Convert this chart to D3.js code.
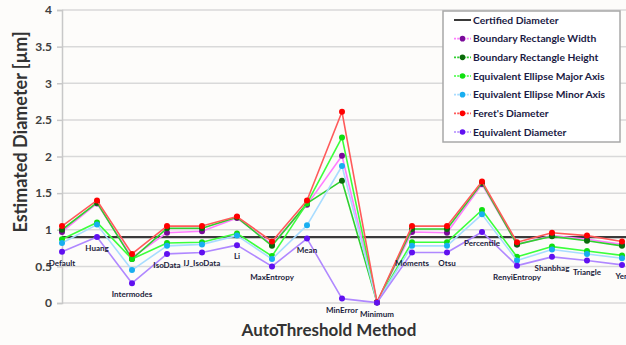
<!DOCTYPE html>
<html>
<head>
<meta charset="utf-8">
<script src="https://cdn.jsdelivr.net/npm/d3@7"></script>
<style>
  html, body { margin: 0; padding: 0; background: #fdfcfa; }
  svg { display: block; }
  text { font-family: Lato, "Liberation Sans", sans-serif; font-weight: bold; }
</style>
</head>
<body>
<svg id="chart" width="626" height="345"></svg>
<script>
// AutoThreshold methods on the category axis
const methods = ["Default", "Huang", "Intermodes", "IsoData", "IJ_IsoData", "Li", "MaxEntropy", "Mean",
  "MinError", "Minimum", "Moments", "Otsu", "Percentile", "RenyiEntropy", "Shanbhag", "Triangle", "Yen"];

// Estimated diameters [µm] per size measure
const certifiedDiameter = 0.9;
const boundaryRectWidth  = [0.97, 1.36, 0.62, 0.96, 0.98, 1.16, 0.80, 1.34, 2.01, 0.01, 0.97, 0.96, 1.62, 0.80, 0.92, 0.87, 0.80];
const boundaryRectHeight = [1.00, 1.37, 0.60, 1.02, 1.02, 1.17, 0.78, 1.36, 1.67, 0.01, 1.01, 1.01, 1.64, 0.80, 0.91, 0.85, 0.78];
const ellipseMajorAxis   = [0.87, 1.10, 0.60, 0.82, 0.83, 0.95, 0.64, 1.36, 2.26, 0.01, 0.83, 0.83, 1.27, 0.63, 0.77, 0.71, 0.65];
const ellipseMinorAxis   = [0.82, 1.07, 0.45, 0.78, 0.80, 0.92, 0.60, 1.06, 1.87, 0.01, 0.78, 0.78, 1.21, 0.58, 0.73, 0.67, 0.61];
const feretDiameter      = [1.05, 1.40, 0.67, 1.05, 1.05, 1.18, 0.84, 1.40, 2.61, 0.01, 1.05, 1.05, 1.66, 0.83, 0.96, 0.92, 0.84];
const equivalentDiameter = [0.70, 0.90, 0.27, 0.67, 0.69, 0.79, 0.50, 0.88, 0.06, 0.005, 0.69, 0.69, 0.97, 0.51, 0.63, 0.58, 0.52];

const yTicks = [0, 0.5, 1, 1.5, 2, 2.5, 3, 3.5, 4];

const seriesNames = ["Boundary Rectangle Width", "Boundary Rectangle Height", "Equivalent Ellipse Major Axis",
  "Equivalent Ellipse Minor Axis", "Feret's Diameter", "Equivalent Diameter"];
const seriesValues = [boundaryRectWidth, boundaryRectHeight, ellipseMajorAxis, ellipseMinorAxis, feretDiameter, equivalentDiameter];
const lineColors   = ["#ff7dff", "#2fd02f", "#3cff3c", "#a8dcff", "#ff5a5a", "#b088ff"];
const markerColors = ["#7a0a9a", "#0a6a0a", "#10e010", "#18aef0", "#ff0000", "#6010f0"];

const svg = d3.select("#chart");
const W = 626, H = 345;
const plot = { left: 62, right: 622, top: 10, bottom: 303 };

const x = d3.scalePoint().domain(methods).range([plot.left, plot.right]);
const y = d3.scaleLinear().domain([0, 4]).range([plot.bottom, plot.top]);

// horizontal gridlines
svg.append("g").selectAll("line").data(yTicks).join("line")
  .attr("x1", plot.left).attr("x2", W)
  .attr("y1", d => y(d)).attr("y2", d => y(d))
  .attr("stroke", "#d9d9d9").attr("stroke-width", 1.5);

// value axis
const yAxis = svg.append("g").attr("transform", `translate(${plot.left},0)`)
  .call(d3.axisLeft(y).tickValues(yTicks).tickSize(5).tickPadding(5).tickFormat(d3.format("")));
yAxis.select(".domain").attr("stroke", "#c8c8c8").attr("stroke-width", 1.5);
yAxis.selectAll(".tick line").attr("stroke", "#c8c8c8").attr("stroke-width", 1.5);
yAxis.selectAll(".tick text").attr("fill", "#404040").style("font-size", "12px")
  .style("font-family", "Lato, sans-serif").style("font-weight", "bold");

// certified reference line
svg.append("line")
  .attr("x1", plot.left).attr("x2", W)
  .attr("y1", y(certifiedDiameter)).attr("y2", y(certifiedDiameter))
  .attr("stroke", "#3a3a3a").attr("stroke-width", 2.2);

// measurement series
const line = d3.line().x((d, i) => x(methods[i])).y(d => y(d));
seriesValues.forEach((vals, s) => {
  const g = svg.append("g");
  g.append("path").datum(vals).attr("d", line)
    .attr("fill", "none").attr("stroke", lineColors[s]).attr("stroke-width", 1.6)
    .attr("stroke-linejoin", "round");
  g.selectAll("circle").data(vals).join("circle")
    .attr("cx", (d, i) => x(methods[i])).attr("cy", d => y(d))
    .attr("r", 3).attr("fill", markerColors[s]);
});

// method names beneath each point group
svg.append("g").selectAll("text").data(methods).join("text")
  .attr("x", d => x(d))
  .attr("y", (d, i) => y(equivalentDiameter[i]) + 14)
  .attr("text-anchor", "middle")
  .attr("fill", "#1c1c3c").style("font-size", "8px")
  .text(d => d);

// axis titles
svg.append("text")
  .attr("x", 329).attr("y", 336)
  .attr("text-anchor", "middle").attr("fill", "#333")
  .style("font-size", "17px")
  .text("AutoThreshold Method");

svg.append("text")
  .attr("transform", "translate(27,132) rotate(-90)")
  .attr("text-anchor", "middle").attr("fill", "#333")
  .style("font-size", "18px")
  .text("Estimated Diameter [µm]");

// legend
const lg = svg.append("g");
lg.append("rect").attr("x", 443).attr("y", 11).attr("width", 177).attr("height", 131)
  .attr("fill", "#ffffff").attr("stroke", "#a8a8a8").attr("stroke-width", 1.5);
const legendNames = ["Certified Diameter"].concat(seriesNames);
const rowY = d3.scalePoint().domain(legendNames).range([20, 132]);
legendNames.forEach((name, i) => {
  const yy = rowY(name);
  if (i === 0) {
    lg.append("line").attr("x1", 454).attr("x2", 471).attr("y1", yy).attr("y2", yy)
      .attr("stroke", "#3a3a3a").attr("stroke-width", 2);
  } else {
    lg.append("line").attr("x1", 454).attr("x2", 471).attr("y1", yy).attr("y2", yy)
      .attr("stroke", lineColors[i - 1]).attr("stroke-width", 1.6).attr("stroke-dasharray", "2,1.2");
    lg.append("circle").attr("cx", 462.5).attr("cy", yy).attr("r", 2.8).attr("fill", markerColors[i - 1]);
  }
  lg.append("text").attr("x", 473).attr("y", yy).attr("dy", "0.35em")
    .attr("fill", "#1a1a44").style("font-size", "10.3px").text(name);
});
</script>
</body>
</html>
